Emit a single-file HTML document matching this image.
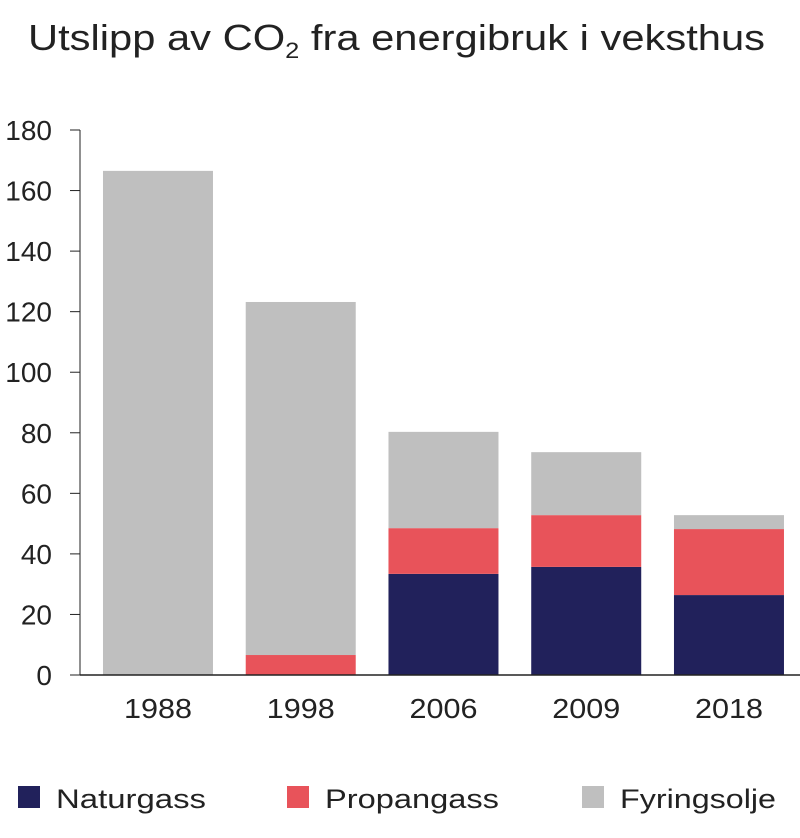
<!DOCTYPE html>
<html><head><meta charset="utf-8"><style>
body{margin:0;background:#fff;font-family:"Liberation Sans","DejaVu Sans",sans-serif;}
svg text{font-family:"Liberation Sans","DejaVu Sans",sans-serif;fill:#222;}
</style></head><body>
<svg id="chart" width="800" height="833" viewBox="0 0 800 833" xmlns="http://www.w3.org/2000/svg">
<text x="28" y="50" font-size="36" textLength="737" lengthAdjust="spacingAndGlyphs">Utslipp av CO<tspan font-size="22" dy="8">2</tspan><tspan dy="-8"> fra energibruk i veksthus</tspan></text>
<g id="axes"></g><g id="bars"></g>
<g>
<g><rect x="18" y="786" width="22" height="22" fill="#21215b"/><text x="56" y="808" font-size="27" textLength="150" lengthAdjust="spacingAndGlyphs">Naturgass</text></g>
<g><rect x="287" y="786" width="22" height="22" fill="#e8535a"/><text x="325" y="808" font-size="27" textLength="174" lengthAdjust="spacingAndGlyphs">Propangass</text></g>
<g><rect x="582" y="786" width="22" height="22" fill="#bfbfbf"/><text x="620" y="808" font-size="27" textLength="156" lengthAdjust="spacingAndGlyphs">Fyringsolje</text></g>
</g>
</svg>
<script>
const categories=["1988","1998","2006","2009","2018"];
const naturgass=[0,0,33.4,35.7,26.4];
const propangass=[0,6.6,15.1,17.1,21.8];
const fyringsolje=[166.5,116.6,31.8,20.8,4.6];
const yTicks=[0,20,40,60,80,100,120,140,160,180];
const NS="http://www.w3.org/2000/svg";
const y0=675,y1=130,yMax=180,left=86.6,band=142.75,bw=110;
const y=v=>y0-(v/yMax)*(y0-y1);
const x=i=>left+i*band+band/2;
const axes=document.getElementById('axes'),bars=document.getElementById('bars');
function mk(tag,attrs,parent){const e=document.createElementNS(NS,tag);for(const k in attrs)e.setAttribute(k,attrs[k]);parent.appendChild(e);return e;}
yTicks.forEach(t=>{
 const l=mk('line',{x1:70,x2:80,y1:y(t),y2:y(t),stroke:'#222','stroke-width':1},axes);
 
 
 const tx=mk('text',{x:52,y:y(t)+10,'font-size':28,'text-anchor':'end'},axes);
 tx.textContent=t;
 
 
});
const yl=mk('line',{x1:80,x2:80,y1:y1,y2:y0,stroke:'#222','stroke-width':1},axes);


const series=[[naturgass,'#21215b','naturgass'],[propangass,'#e8535a','propangass'],[fyringsolje,'#bfbfbf','fyringsolje']];
categories.forEach((c,i)=>{
 let base=0;
 series.forEach(([arr,col,nm])=>{
  const v=arr[i];
  if(v>0){
   const r=mk('rect',{x:x(i)-bw/2,y:y(base+v),width:bw,height:y(base)-y(base+v),fill:col},bars);
   
   
  }
  base+=v;
 });
 const tx=mk('text',{x:x(i),y:718,'font-size':28,'text-anchor':'middle',textLength:68,lengthAdjust:'spacingAndGlyphs'},axes);
 tx.textContent=c;
 
 
});
const xl=mk('line',{x1:80,x2:800,y1:y0,y2:y0,stroke:'#222','stroke-width':1.5},bars);


</script>
</body></html>
